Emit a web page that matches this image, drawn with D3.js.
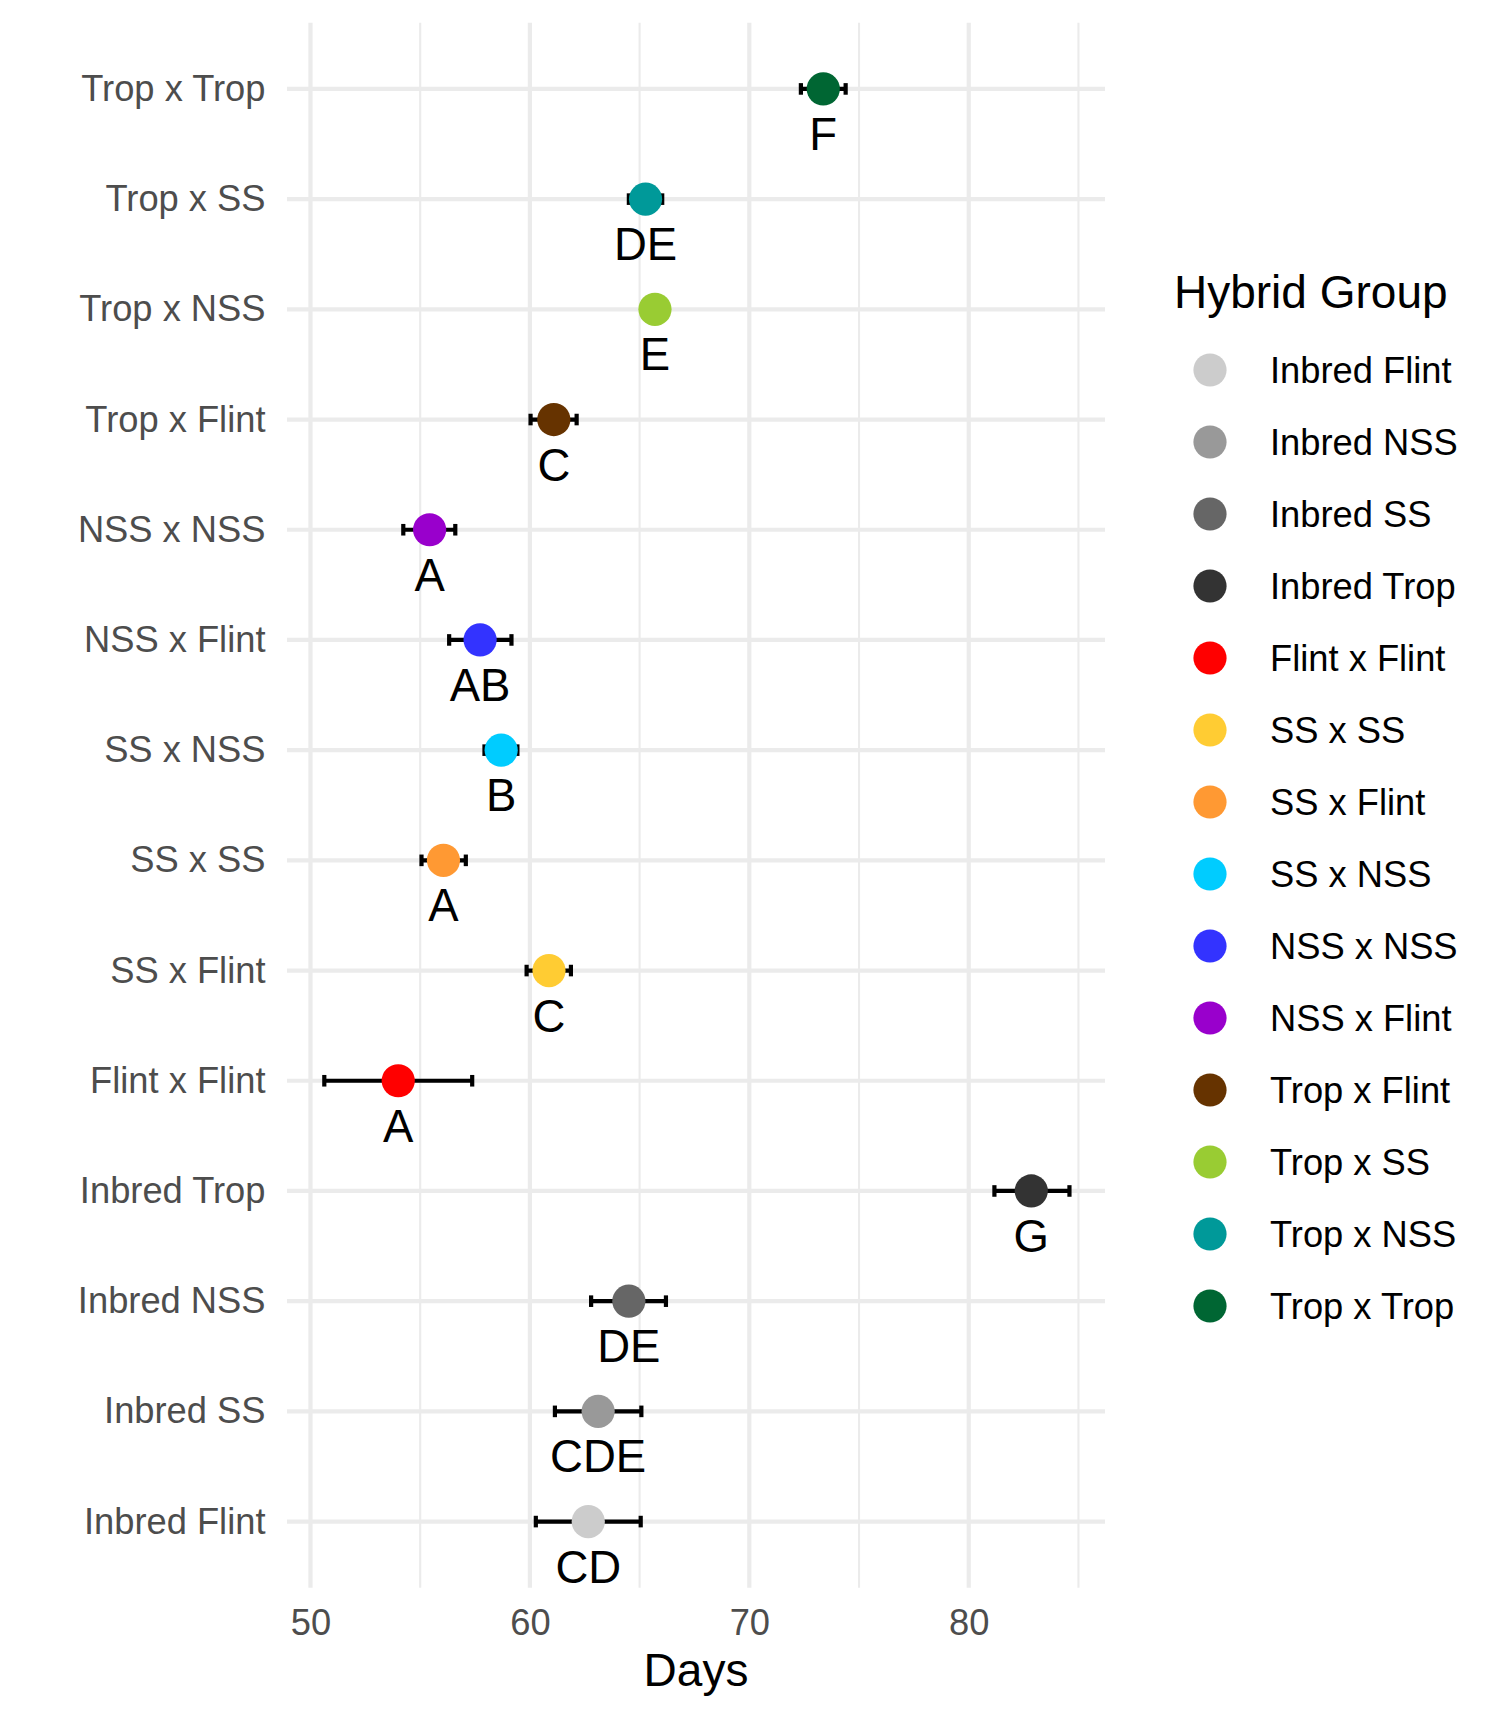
<!DOCTYPE html>
<html>
<head>
<meta charset="utf-8">
<script src="https://cdn.jsdelivr.net/npm/d3@7"></script>
<style>
  html, body { margin: 0; padding: 0; background: #fff; }
  svg { display: block; font-family: "Liberation Sans", Arial, Helvetica, sans-serif; }
</style>
</head>
<body>
<svg id="chart" width="1504" height="1720"></svg>
<script>
// ---- data (rows listed top to bottom) ----
const rowLabels = ["Trop x Trop","Trop x SS","Trop x NSS","Trop x Flint","NSS x NSS","NSS x Flint",
  "SS x NSS","SS x SS","SS x Flint","Flint x Flint","Inbred Trop","Inbred NSS","Inbred SS","Inbred Flint"];
const rowGroups = ["Trop x Trop","Trop x NSS","Trop x SS","Trop x Flint","NSS x Flint","NSS x NSS",
  "SS x NSS","SS x Flint","SS x SS","Flint x Flint","Inbred Trop","Inbred SS","Inbred NSS","Inbred Flint"];
const meanDays = [73.37,65.27,65.70,61.09,55.43,57.73,58.69,56.06,60.87,54.00,82.85,64.51,63.11,62.66];
const lowerDays = [72.35,64.51,65.25,60.03,54.23,56.32,57.93,55.06,59.85,50.63,81.17,62.79,61.14,60.27];
const upperDays = [74.39,66.03,66.15,62.13,56.60,59.16,59.43,57.08,61.87,57.37,84.59,66.20,65.08,65.05];
const letters = ["F","DE","E","C","A","AB","B","A","C","A","G","DE","CDE","CD"];

const legendGroups = ["Inbred Flint","Inbred NSS","Inbred SS","Inbred Trop","Flint x Flint","SS x SS",
  "SS x Flint","SS x NSS","NSS x NSS","NSS x Flint","Trop x Flint","Trop x SS","Trop x NSS","Trop x Trop"];
const legendColors = ["#CCCCCC","#999999","#666666","#333333","#FF0000","#FFCC33",
  "#FF9933","#00CCFF","#3333FF","#9900CC","#663300","#99CC33","#009999","#006633"];
const xTicks = [50,60,70,80];
const xMinorTicks = [55,65,75,85];

// ---- layout ----
const panel = {left: 287, right: 1105, top: 22.8, bottom: 1587.7};
const svg = d3.select("#chart");
const axisFont = 36.3, titleFont = 46, letterFont = 45.5;

const x = d3.scaleLinear().domain([48.93, 86.21]).range([panel.left, panel.right]);
const y = d3.scalePoint().domain(rowLabels).range([panel.top, panel.bottom]).padding(0.6);
const color = d3.scaleOrdinal().domain(legendGroups).range(legendColors);

const rows = rowLabels.map((r, i) => ({label: r, group: rowGroups[i], mean: meanDays[i],
  lo: lowerDays[i], hi: upperDays[i], letter: letters[i]}));

// gridlines
const grid = svg.append("g");
grid.selectAll("line.minor").data(xMinorTicks).join("line")
  .attr("x1", d => x(d)).attr("x2", d => x(d))
  .attr("y1", panel.top).attr("y2", panel.bottom)
  .attr("stroke", "#EBEBEB").attr("stroke-width", 2.1);
grid.selectAll("line.majorx").data(xTicks).join("line")
  .attr("x1", d => x(d)).attr("x2", d => x(d))
  .attr("y1", panel.top).attr("y2", panel.bottom)
  .attr("stroke", "#EBEBEB").attr("stroke-width", 4.2);
grid.selectAll("line.majory").data(rowLabels).join("line")
  .attr("x1", panel.left).attr("x2", panel.right)
  .attr("y1", d => y(d)).attr("y2", d => y(d))
  .attr("stroke", "#EBEBEB").attr("stroke-width", 4.2);

// axes
const xAxis = svg.append("g").attr("transform", `translate(0,${panel.bottom})`)
  .call(d3.axisBottom(x).tickValues(xTicks).tickSize(0).tickPadding(22));
xAxis.select(".domain").remove();
xAxis.selectAll("text").attr("font-size", axisFont).attr("fill", "#4D4D4D")
  .attr("font-family", "Liberation Sans, Arial, sans-serif");

const yAxis = svg.append("g").attr("transform", `translate(${panel.left},0)`)
  .call(d3.axisLeft(y).tickSize(0).tickPadding(21.5));
yAxis.select(".domain").remove();
yAxis.selectAll("text").attr("font-size", axisFont).attr("fill", "#4D4D4D")
  .attr("font-family", "Liberation Sans, Arial, sans-serif");

// error bars
const capH = 5.8;
const eb = svg.append("g").attr("stroke", "#000").attr("stroke-width", 4.2).attr("fill", "none");
rows.forEach(d => {
  const cy = y(d.label);
  eb.append("line").attr("x1", x(d.lo)).attr("x2", x(d.hi)).attr("y1", cy).attr("y2", cy);
  eb.append("line").attr("x1", x(d.lo)).attr("x2", x(d.lo)).attr("y1", cy - capH).attr("y2", cy + capH);
  eb.append("line").attr("x1", x(d.hi)).attr("x2", x(d.hi)).attr("y1", cy - capH).attr("y2", cy + capH);
});

// points
svg.append("g").selectAll("circle").data(rows).join("circle")
  .attr("cx", d => x(d.mean)).attr("cy", d => y(d.label)).attr("r", 16.6)
  .attr("fill", d => color(d.group));

// letter labels
svg.append("g").selectAll("text").data(rows).join("text")
  .attr("x", d => x(d.mean)).attr("y", d => y(d.label) + 61)
  .attr("text-anchor", "middle").attr("font-size", letterFont).attr("fill", "#000")
  .text(d => d.letter);

// axis title
svg.append("text").attr("x", (panel.left + panel.right) / 2).attr("y", 1686)
  .attr("text-anchor", "middle").attr("font-size", titleFont).attr("fill", "#000").text("Days");

// legend
const lg = svg.append("g");
lg.append("text").attr("x", 1174).attr("y", 308).attr("font-size", titleFont).attr("fill", "#000")
  .text("Hybrid Group");
const items = lg.selectAll("g.item").data(legendGroups).join("g")
  .attr("transform", (d, i) => `translate(0,${370 + i * 72})`);
items.append("circle").attr("cx", 1210).attr("cy", 0).attr("r", 16.6).attr("fill", d => color(d));
items.append("text").attr("x", 1270).attr("y", 0).attr("dy", "0.36em")
  .attr("font-size", axisFont).attr("fill", "#000").text(d => d);
</script>
</body>
</html>
